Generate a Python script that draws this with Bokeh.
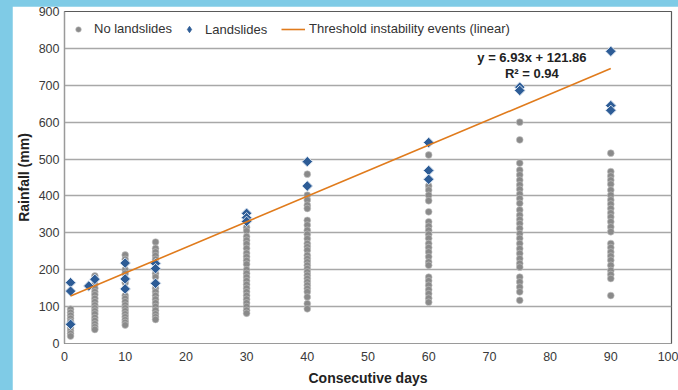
import numpy as np
from bokeh.plotting import figure
from bokeh.models import (Legend, LegendItem, Label, FixedTicker, ColumnDataSource,
                          CDSView, IndexFilter)
from bokeh.embed import file_html
from bokeh.resources import INLINE

# ---------------- data ----------------
x_ticks = [0, 10, 20, 30, 40, 50, 60, 70, 80, 90, 100]
y_ticks = [0, 100, 200, 300, 400, 500, 600, 700, 800, 900]

# rainfall of events without landslides, per duration (days)
no_d1 = [93, 84, 76, 68, 60, 42, 34, 27, 20]
no_d5 = [183, 160, 150, 140, 132, 122, 113, 104, 96, 88, 80, 70, 62, 53, 45, 38]
no_d10 = [240, 228, 200, 190, 165, 130, 122, 113, 104, 96, 88, 80, 72, 64, 57, 50]
no_d15 = [275, 258, 248, 238, 228, 190, 180, 150, 140, 130, 120, 110, 100, 90, 80, 72, 65]
no_d30 = [315, 305, 290, 280, 270, 258, 245, 235, 225, 215, 200, 190, 180, 170, 160,
          150, 140, 130, 120, 110, 100, 90, 82]
no_d40 = [459, 402, 389, 375, 366, 334, 321, 307, 296, 284, 271, 262, 253, 239, 230,
          221, 212, 203, 194, 185, 176, 167, 158, 149, 140, 126, 108, 94]
no_d60 = [511, 427, 416, 402, 387, 357, 330, 318, 307, 296, 285, 271, 260, 248, 235,
          221, 212, 180, 170, 158, 146, 135, 123, 112]
no_d75 = [600, 552, 489, 470, 457, 443, 430, 418, 405, 393, 380, 362, 348, 336, 325,
          312, 298, 285, 271, 257, 244, 230, 217, 207, 180, 167, 153, 140, 117]
no_d90 = [516, 466, 454, 443, 432, 416, 402, 389, 378, 366, 354, 343, 330, 316, 303,
          271, 260, 248, 237, 226, 212, 198, 187, 176, 130]

no_groups = {1: no_d1, 5: no_d5, 10: no_d10, 15: no_d15, 30: no_d30,
             40: no_d40, 60: no_d60, 75: no_d75, 90: no_d90}

# landslide events
ls_days = [1, 1, 1, 4, 5, 10, 10, 10, 15, 15, 15, 30, 30, 30, 40, 40,
           60, 60, 60, 75, 75, 90, 90, 90]
ls_rain = [165, 142, 52, 156, 174, 218, 175, 148, 217, 203, 163, 353, 341, 331, 493, 427,
           545, 469, 445, 695, 686, 792, 645, 632]

# threshold (linear fit)
slope = 6.93
intercept = 121.86
trend_days = [1, 90]
eq_text = "y = 6.93x + 121.86"
r2_text = "R\u00b2 = 0.94"

# ---------------- figure ----------------
FONT = "Liberation Sans"

p = figure(width=666, height=384, x_range=(0, 100), y_range=(0, 900),
           output_backend="svg", toolbar_location=None,
           min_border_left=50, min_border_right=7, min_border_top=5, min_border_bottom=47)

p.background_fill_color = "white"
p.border_fill_color = "white"
p.outline_line_color = "#5a5a5a"
p.outline_line_width = 1.2

p.xgrid.grid_line_color = None
p.ygrid.grid_line_color = "#a8a8a8"
p.ygrid.grid_line_width = 1.3

p.xaxis.ticker = FixedTicker(ticks=x_ticks)
p.yaxis.ticker = FixedTicker(ticks=y_ticks)
for ax in (p.xaxis, p.yaxis):
    ax.axis_line_color = "#9a9a9a"
    ax.axis_line_width = 1.2
    ax.major_tick_line_color = None
    ax.minor_tick_line_color = None
    ax.major_tick_out = 0
    ax.major_tick_in = 0
    ax.minor_tick_out = 0
    ax.major_label_text_font = FONT
    ax.major_label_text_font_size = "12.5px"
    ax.major_label_text_color = "#3a3a3a"
    ax.axis_label_text_font = FONT
    ax.axis_label_text_font_size = "14px"
    ax.axis_label_text_font_style = "bold"
    ax.axis_label_text_color = "#222222"

p.xaxis.axis_label = "Consecutive days"
p.yaxis.axis_label = "Rainfall (mm)"
p.xaxis.major_label_standoff = 8
p.yaxis.major_label_standoff = 5
p.xaxis.axis_label_standoff = 6
p.yaxis.axis_label_standoff = 4

nx, ny = [], []
for d, vals in no_groups.items():
    nx += [d] * len(vals)
    ny += vals
src_no = ColumnDataSource(dict(x=nx, y=ny))
src_ls = ColumnDataSource(dict(x=ls_days, y=ls_rain))
src_tr = ColumnDataSource(dict(x=trend_days, y=[slope * d + intercept for d in trend_days]))

r_no = p.scatter("x", "y", source=src_no, marker="circle", size=6.8,
                 fill_color="#8a8a8a", line_color="#c4c4c4", line_width=0.6)
# legend symbol carrier: a tiny diamond hidden beneath the first landslide marker
r_ls_leg = p.scatter("x", "y", source=src_ls, view=CDSView(filter=IndexFilter(indices=[0])),
                     marker="diamond", size=3, fill_color="#2d5c96", line_color="#2d5c96",
                     line_width=0.8)
r_ls = p.scatter("x", "y", source=src_ls, marker="square", angle=np.pi / 4, size=7.4,
                 fill_color="#2d5c96", line_color="#d6e1ee", line_width=1)
r_tr = p.line("x", "y", source=src_tr, line_color="#e07b1c", line_width=1.6)

def make_legend(label, rend, xoff, gh=14):
    lg = Legend(items=[LegendItem(label=label, renderers=[rend])],
                location=(xoff, 314 - gh / 2), orientation="horizontal",
                padding=0, margin=0, spacing=0,
                glyph_width=24, glyph_height=gh, label_height=gh,
                label_standoff=4, border_line_color=None,
                background_fill_alpha=0,
                label_text_font=FONT, label_text_font_size="13px",
                label_text_color="#333333")
    p.add_layout(lg)

make_legend("No landslides", r_no, 2)
make_legend("Landslides", r_ls_leg, 113, gh=16)
make_legend("Threshold instability events (linear)", r_tr, 217)

for txt, yv in ((eq_text, 775), (r2_text, 733)):
    p.add_layout(Label(x=77, y=yv, text=txt, text_align="center", text_baseline="middle",
                       text_font=FONT, text_font_size="13px", text_font_style="bold",
                       text_color="#222222"))

html = file_html(p, INLINE)
style = ("<style>html,body{margin:0;padding:0;background:#7fcbe6;overflow:hidden;}"
         "body{padding:6px 0 0 12px;}</style>")
html = html.replace("</head>", style + "</head>", 1)
open("out.html", "w").write(html)
